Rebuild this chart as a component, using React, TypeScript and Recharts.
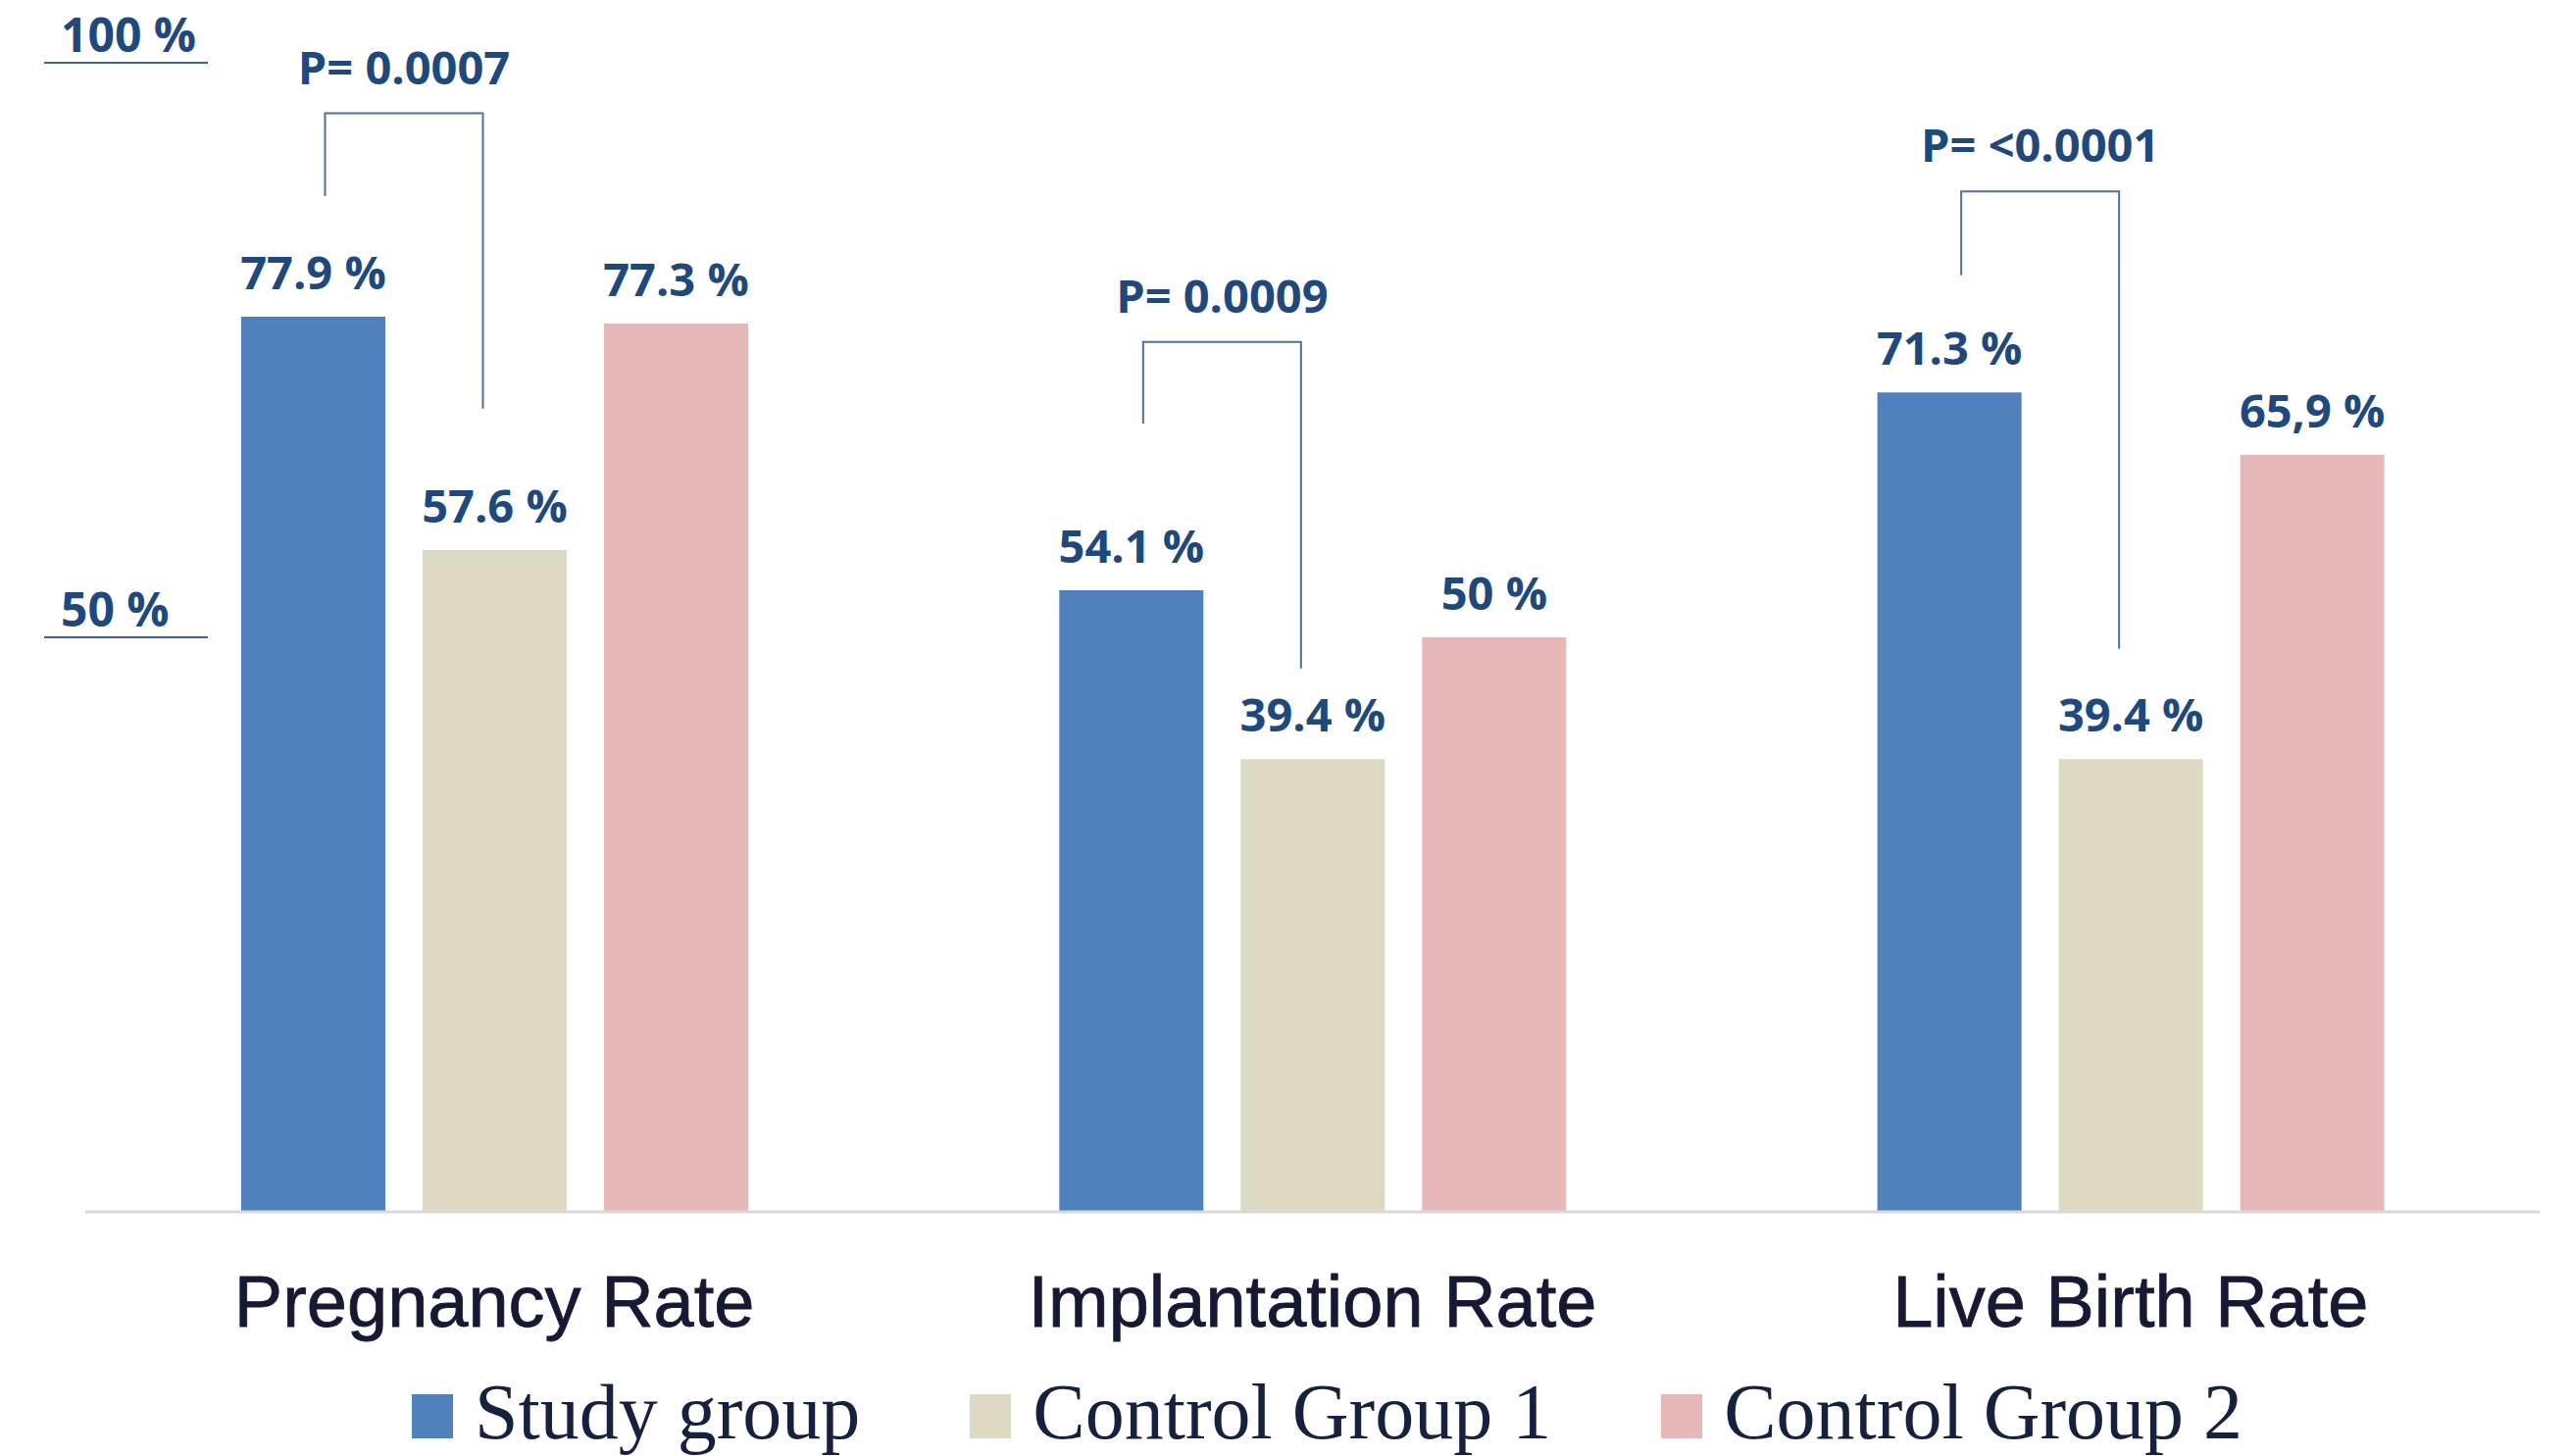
import { BarChart, Bar, XAxis, YAxis, LabelList, Legend } from 'recharts'

const categories = ['Pregnancy Rate', 'Implantation Rate', 'Live Birth Rate']
const seriesNames = ['Study group', 'Control Group 1', 'Control Group 2']
const studyGroup = [77.9, 54.1, 71.3]
const controlGroup1 = [57.6, 39.4, 39.4]
const controlGroup2 = [77.3, 50, 65.9]
const studyLabels = ['77.9 %', '54.1 %', '71.3 %']
const control1Labels = ['57.6 %', '39.4 %', '39.4 %']
const control2Labels = ['77.3 %', '50 %', '65,9 %']

// study vs control group 1 comparison brackets (in % units)
const pValues = ['P= 0.0007', 'P= 0.0009', 'P= <0.0001']
const bracketTop = [95.6, 75.7, 88.8]
const bracketStudyEnd = [88.4, 68.6, 81.5]
const bracketControlEnd = [69.9, 47.3, 49.0]

const yTicks = [50, 100]
const yTickLabels = ['50 %', '100 %']

const data = categories.map((name, i) => ({
  name,
  study: studyGroup[i],
  control1: controlGroup1[i],
  control2: controlGroup2[i],
}))

const BAR_GAP = 38
const NAVY = '#1F497D'
const LABEL_FONT = '"Open Sans", "Liberation Sans", sans-serif'

const valueLabel = (labels: string[]) => (props: any) => {
  const vb = props.viewBox ?? props
  const i = props.index
  return (
    <text
      x={vb.x + vb.width / 2}
      y={vb.y - 28}
      textAnchor="middle"
      fill={NAVY}
      fontFamily={LABEL_FONT}
      fontWeight={700}
      fontSize={47}
    >
      {labels[i]}
    </text>
  )
}

const renderBracket = (props: any) => {
  const vb = props.viewBox ?? props
  const i = props.index
  const { x, y, width, height } = vb
  const base = y + height
  const k = height / controlGroup1[i]
  const py = (v: number) => base - v * k
  const rightX = x + width / 2 - 12
  const leftX = x + width / 2 - (width + BAR_GAP) + 12
  const top = py(bracketTop[i])
  return (
    <g>
      <polyline
        points={`${leftX},${py(bracketStudyEnd[i])} ${leftX},${top} ${rightX},${top} ${rightX},${py(bracketControlEnd[i])}`}
        fill="none"
        stroke="#4f729b"
        strokeWidth={2}
      />
      <text
        x={(leftX + rightX) / 2}
        y={top - 30}
        textAnchor="middle"
        fill={NAVY}
        fontFamily={LABEL_FONT}
        fontWeight={700}
        fontSize={47}
      >
        {pValues[i]}
      </text>
    </g>
  )
}

const renderYTick = (props: any) => {
  const { x, y, payload } = props
  const label = yTickLabels[yTicks.indexOf(payload.value)]
  return (
    <g>
      <text
        x={x - 25}
        y={y - 11}
        textAnchor="start"
        fill={NAVY}
        fontFamily={LABEL_FONT}
        fontWeight={700}
        fontSize={48}
      >
        {label}
      </text>
      <line x1={x - 42} x2={x + 125} y1={y} y2={y} stroke="#3c6592" strokeWidth={2} />
    </g>
  )
}

const renderLegend = (props: any) => {
  const items = [...props.payload].sort(
    (a: any, b: any) => seriesNames.indexOf(a.value) - seriesNames.indexOf(b.value),
  )
  return (
    <div
      style={{
        display: 'flex',
        justifyContent: 'center',
        alignItems: 'baseline',
        gap: 112,
        fontFamily: '"Liberation Serif", "Times New Roman", serif',
        fontSize: 80,
        lineHeight: '80px',
        color: '#16213f',
      }}
    >
      {items.map((entry: any) => (
        <span key={entry.value} style={{ whiteSpace: 'nowrap' }}>
          <span
            style={{
              display: 'inline-block',
              width: 42,
              height: 45,
              marginRight: 22,
              background: entry.color,
            }}
          />
          {entry.value}
        </span>
      ))}
    </div>
  )
}

export default function App() {
  return (
    <div style={{ position: 'absolute', left: 0, top: 0, width: 2620, height: 1485, background: '#fff' }}>
      <BarChart
        width={2620}
        height={1485}
        data={data}
        barGap={BAR_GAP}
        margin={{ top: 64, right: 30, left: 0, bottom: 119 }}
      >
        <XAxis
          dataKey="name"
          interval={0}
          height={130}
          axisLine={{ stroke: '#d9d9d9', strokeWidth: 3 }}
          tickLine={false}
          tickSize={0}
          tickMargin={64}
          tick={{ fontSize: 74, fill: '#151933', stroke: '#151933', strokeWidth: 0.8, fontFamily: '"Liberation Sans", Arial, sans-serif' }}
        />
        <YAxis
          width={87}
          domain={[0, 100]}
          ticks={yTicks}
          axisLine={false}
          tickLine={false}
          tickSize={0}
          tickMargin={0}
          tick={renderYTick}
        />
        <Legend
          layout="horizontal"
          verticalAlign="middle"
          align="center"
          content={renderLegend}
          wrapperStyle={{ left: 87, top: 1400, width: 2533, height: 'auto' }}
        />
        <Bar dataKey="study" name={seriesNames[0]} fill="#4F81BD" barSize={147} isAnimationActive={false}>
          <LabelList dataKey="study" content={valueLabel(studyLabels)} />
        </Bar>
        <Bar dataKey="control1" name={seriesNames[1]} fill="#DDD9C3" barSize={147} isAnimationActive={false}>
          <LabelList dataKey="control1" content={valueLabel(control1Labels)} />
          <LabelList dataKey="control1" content={renderBracket} />
        </Bar>
        <Bar dataKey="control2" name={seriesNames[2]} fill="#E6B9B8" barSize={147} isAnimationActive={false}>
          <LabelList dataKey="control2" content={valueLabel(control2Labels)} />
        </Bar>
      </BarChart>
    </div>
  )
}
